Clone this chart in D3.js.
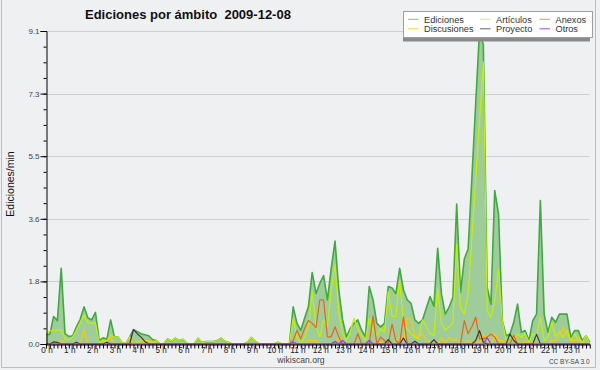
<!DOCTYPE html>
<html>
<head>
<meta charset="utf-8">
<script src="https://cdn.jsdelivr.net/npm/d3@7"></script>
<style>
  body { margin: 0; background: #eff0f2; }
  svg { display: block; font-family: "Liberation Sans", Arial, sans-serif; }
</style>
</head>
<body>
<div id="chart"></div>
<script>
// one value every 10 minutes, 0 h .. 23 h 50
var hourLabels = d3.range(24).map(function (h) { return h + " h"; });

var ediciones = [
  0.28, 0.28, 0.8, 0.68, 2.2, 0.3, 0.22, 0.24, 0.5, 0.72, 1.08, 0.76,
  0.7, 0.92, 0.1, 0.18, 0.14, 0.7, 0.2, 0.2, 0.04, 0, 0.2, 0.42,
  0.36, 0.3, 0.27, 0.24, 0.13, 0.1, 0, 0, 0.15, 0.08, 0.17, 0.1,
  0.14, 0.02, 0, 0, 0.17, 0.04, 0.07, 0.07, 0.07, 0.1, 0.17, 0.08,
  0.04, 0, 0, 0, 0, 0.05, 0.19, 0.08, 0, 0, 0, 0,
  0, 0.05, 0, 0, 0, 1.08, 0.6, 0.4, 0.75, 1.08, 2.08, 1.47,
  1.76, 1.99, 1.28, 2.2, 2.99, 1.57, 0.7, 0.21, 0.45, 0.6, 0.7, 0.4,
  0.21, 1.67, 1.28, 0.6, 0.5, 0.6, 1.67, 1.63, 1.47, 2.2, 1.57, 1.28,
  1.18, 0.7, 0.6, 0.7, 1.04, 1.38, 1.1, 2.78, 1.45, 0.87, 1.07, 1.36,
  4.07, 1.5, 2.47, 2.76, 4.84, 7.0, 9.1, 8.7, 1.65, 1.16, 4.46, 3.78,
  0.68, 0.24, 0.29, 0.63, 1.16, 0.34, 0.39, 0.1, 0.68, 0.87, 4.17, 0.87,
  0.34, 0.78, 0.63, 0.87, 0.87, 0.87, 0.19, 0.39, 0.39, 0.1, 0.24, 0.05
];

var articulos = [
  0.28, 0.39, 0.4, 0.4, 0.42, 0.15, 0.12, 0.2, 0.4, 0.62, 0.85, 0.62,
  0.6, 0.62, 0.05, 0.1, 0.1, 0.25, 0.2, 0.2, 0.04, 0, 0, 0,
  0.05, 0.1, 0.1, 0.1, 0.05, 0.1, 0, 0, 0.15, 0.08, 0.17, 0.1,
  0.14, 0.02, 0, 0, 0.17, 0.04, 0.07, 0.07, 0.07, 0.1, 0.17, 0.08,
  0.04, 0, 0, 0, 0, 0.05, 0.19, 0.08, 0, 0, 0, 0,
  0, 0.05, 0, 0, 0, 0.75, 0.2, 0, 0.2, 0.5, 1.52, 0.5,
  0.21, 0.7, 0.5, 1.57, 2.3, 0.9, 0.3, 0.1, 0.35, 0.75, 0.45, 0.25,
  0.1, 0.75, 0.4, 0.25, 0.45, 0.35, 1.52, 0.8, 0.8, 1.86, 0.6, 0.45,
  0.3, 0.2, 0.15, 0.7, 0.5, 0.3, 0.25, 1.6, 0.6, 0.4, 0.5, 0.6,
  2.9, 1.07, 0.87, 1.45, 3.1, 4.8, 6.5, 8.2, 0.97, 0.78, 1.26, 2.18,
  0.68, 0.1, 0.2, 0.1, 0.3, 0.2, 0.3, 0.05, 0.3, 0.2, 0.78, 0.1,
  0.2, 0.63, 0.2, 0.35, 0.2, 0.4, 0.1, 0.3, 0.1, 0.05, 0.25, 0
];

var anexos = [
  0, 0, 0, 0, 0, 0, 0, 0, 0, 0, 0, 0,
  0, 0, 0, 0, 0, 0, 0, 0, 0, 0, 0, 0,
  0, 0, 0, 0, 0, 0, 0, 0, 0, 0, 0, 0,
  0, 0, 0, 0, 0, 0, 0, 0, 0, 0, 0, 0,
  0, 0, 0, 0, 0, 0, 0, 0, 0, 0, 0, 0,
  0, 0, 0, 0, 0, 0.1, 0.4, 0.15, 0.45, 0.68, 0.6, 0.48,
  1.28, 1.28, 0.21, 0.21, 0.5, 0.2, 0, 0, 0, 0, 0.3, 0,
  0, 0, 0.82, 0, 0.2, 0.1, 0, 0.58, 0.1, 0, 0.79, 0,
  0, 0, 0, 0, 0, 0, 0, 0, 0, 0, 0, 0,
  0, 0, 0.68, 0.3, 0.5, 0.78, 0.15, 0.15, 0.2, 0.29, 0.2, 0,
  0, 0, 0, 0.25, 0, 0, 0, 0, 0, 0, 0, 0,
  0, 0, 0, 0, 0, 0, 0, 0, 0, 0, 0, 0
];

var discusiones = [
  0, 0, 0, 0.06, 0.1, 0, 0, 0, 0, 0, 0.42, 0,
  0, 0, 0, 0, 0.1, 0.2, 0, 0, 0, 0, 0.2, 0,
  0, 0, 0.08, 0.1, 0.08, 0, 0, 0, 0, 0, 0, 0,
  0, 0, 0, 0, 0, 0, 0, 0, 0, 0, 0, 0,
  0, 0, 0, 0, 0, 0, 0, 0, 0, 0, 0, 0,
  0, 0, 0, 0, 0, 0, 0, 0, 0, 0.1, 0.1, 0.1,
  0, 0, 0, 0, 0, 0.2, 0.1, 0, 0, 0, 0, 0,
  0, 0, 0, 0, 0.05, 0, 0, 0, 0.1, 0.2, 0.1, 0.75,
  0.72, 0.25, 0.2, 0.3, 0.1, 0.05, 0, 0, 0.19, 0, 0.19, 0.1,
  0.15, 0, 0, 0.1, 0, 0.1, 0, 0.29, 0.1, 0, 0.3, 0.1,
  0.1, 0, 0, 0.24, 0.1, 0, 0.1, 0, 0.05, 0, 0, 0,
  0, 0.1, 0.1, 0.2, 0.48, 0.29, 0.1, 0.1, 0.2, 0.05, 0, 0
];

var proyecto = [
  0, 0, 0.06, 0.05, 0, 0, 0, 0, 0.05, 0, 0, 0,
  0, 0, 0, 0, 0.05, 0, 0, 0, 0, 0, 0, 0.42,
  0.3, 0.2, 0.07, 0, 0, 0, 0, 0, 0, 0, 0, 0,
  0, 0, 0, 0, 0, 0, 0, 0, 0, 0, 0, 0,
  0, 0, 0, 0, 0, 0, 0, 0, 0, 0, 0, 0,
  0, 0, 0, 0, 0, 0, 0, 0, 0, 0, 0, 0,
  0, 0, 0, 0, 0, 0, 0, 0, 0, 0, 0, 0,
  0, 0, 0, 0, 0, 0, 0.13, 0, 0, 0, 0.17, 0,
  0, 0.08, 0, 0, 0, 0, 0.13, 0, 0, 0, 0, 0,
  0, 0, 0, 0, 0, 0.1, 0.39, 0.05, 0, 0, 0, 0,
  0, 0, 0.29, 0.1, 0, 0, 0, 0, 0, 0.28, 0, 0,
  0, 0, 0, 0, 0, 0, 0, 0, 0, 0, 0, 0
];

var otros = [
  0, 0, 0, 0, 0, 0, 0, 0, 0, 0, 0, 0,
  0, 0, 0, 0, 0, 0, 0, 0, 0, 0, 0, 0,
  0, 0, 0, 0, 0, 0, 0, 0, 0, 0, 0, 0,
  0, 0, 0, 0, 0, 0, 0, 0, 0, 0, 0, 0,
  0, 0, 0, 0, 0, 0, 0, 0, 0, 0, 0, 0,
  0, 0, 0, 0, 0, 0.06, 0, 0, 0, 0, 0, 0,
  0, 0, 0, 0, 0.08, 0, 0.1, 0, 0, 0, 0, 0,
  0, 0.1, 0, 0, 0, 0, 0, 0, 0, 0, 0, 0,
  0, 0, 0, 0, 0, 0, 0, 0, 0, 0, 0, 0,
  0, 0, 0, 0, 0, 0, 0, 0, 0.18, 0, 0, 0,
  0, 0, 0, 0, 0, 0, 0, 0, 0, 0, 0, 0,
  0, 0, 0, 0, 0, 0, 0, 0, 0, 0, 0, 0
];

var yMax = 9.1;

// drawing order and colours
var series = [
  { name: "Ediciones",   values: ediciones,   color: "#40a940", key: "#6fcf6f" },
  { name: "Artículos",   values: articulos,   color: "#c4f000", key: "#ccff33" },
  { name: "Discusiones", values: discusiones, color: "#ffc800", key: "#ffd633" },
  { name: "Anexos",      values: anexos,      color: "#f2601a", key: "#ff8c55" },
  { name: "Proyecto",    values: proyecto,    color: "#3a3a3a", key: "#666666" },
  { name: "Otros",       values: otros,       color: "#9933ff", key: "#9955ff" }
];
// legend order, row by row
var legendOrder = ["Ediciones", "Artículos", "Anexos", "Discusiones", "Proyecto", "Otros"];

var W = 600, H = 370;
var margin = { top: 31, right: 10, bottom: 26, left: 46 };
var n = ediciones.length;

var svg = d3.select("#chart")
    .append("svg")
    .attr("width", W)
    .attr("height", H);

svg.append("rect").attr("width", W).attr("height", H).attr("fill", "#eff0f2");

// frame
svg.append("path")
    .attr("d", "M1.5,0V367.5H595.5V0")
    .attr("fill", "none")
    .attr("stroke", "#bdbdbd");

var xScale = d3.scaleLinear()
    .domain([0, n - 1])
    .range([margin.left, 589.8]);

var yScale = d3.scaleLinear()
    .domain([0, yMax])
    .range([344, margin.top]);

var majorTicks = d3.range(6).map(function (k) { return yMax * k / 5; });
var minorTicks = d3.range(21).map(function (k) { return yMax * k / 20; });

// grid
svg.append("g")
    .selectAll("line")
    .data(majorTicks.slice(1))
    .enter().append("line")
    .attr("x1", margin.left)
    .attr("x2", xScale(n - 1))
    .attr("y1", function (d) { return Math.round(yScale(d)) + 0.5; })
    .attr("y2", function (d) { return Math.round(yScale(d)) + 0.5; })
    .attr("stroke", "#cfcfd2")
    .attr("stroke-width", 1);

// area for the total
var area = d3.area()
    .x(function (d, i) { return xScale(i); })
    .y0(yScale(0))
    .y1(function (d) { return yScale(d); });

svg.append("path")
    .datum(ediciones)
    .attr("fill", "#9fcc9b")
    .attr("d", area);

var line = d3.line()
    .x(function (d, i) { return xScale(i); })
    .y(function (d) { return yScale(d); });

series.forEach(function (s, k) {
    svg.append("path")
        .datum(s.values)
        .attr("fill", "none")
        .attr("stroke", s.color)
        .attr("stroke-width", k === 0 ? 1.6 : 1.2)
        .attr("stroke-linejoin", "round")
        .attr("d", line);
});

// Y axis
var yAxis = svg.append("g")
    .attr("transform", "translate(" + (margin.left + 0.5) + ",0)")
    .call(d3.axisLeft(yScale).tickValues(majorTicks).tickFormat(d3.format(".1f")).tickSize(6).tickPadding(1));
svg.append("g")
    .attr("transform", "translate(" + (margin.left + 0.5) + ",0)")
    .call(d3.axisLeft(yScale).tickValues(minorTicks).tickFormat("").tickSize(3))
    .select(".domain").remove();
yAxis.selectAll("text")
    .attr("fill", "#444")
    .style("font-size", "8px")
    .style("font-family", "Liberation Sans, Arial, sans-serif");

// X axis: a tick every 10 minutes, a label every hour
var xAxis = svg.append("g")
    .attr("transform", "translate(0,344.5)")
    .call(d3.axisBottom(xScale).tickValues(d3.range(n)).tickFormat("").tickSize(4).tickSizeOuter(0));
xAxis.selectAll(".tick line").attr("stroke-width", 1);

svg.append("g")
    .selectAll("text")
    .data(hourLabels)
    .enter().append("text")
    .attr("x", function (d, h) { return xScale(h * 6) + 1; })
    .attr("y", 353)
    .attr("text-anchor", "middle")
    .attr("fill", "#222")
    .style("font-size", "8.2px")
    .text(function (d) { return d; });

// titles
svg.append("text")
    .attr("x", 85)
    .attr("y", 18.5)
    .style("font-size", "13px")
    .style("font-weight", "bold")
    .attr("fill", "#111")
    .attr("xml:space", "preserve")
    .text("Ediciones por ámbito  2009-12-08");

svg.append("text")
    .attr("transform", "translate(13.5,184) rotate(-90)")
    .attr("text-anchor", "middle")
    .style("font-size", "10.5px")
    .attr("fill", "#111")
    .text("Ediciones/min");

svg.append("text")
    .attr("x", 301)
    .attr("y", 363.2)
    .attr("text-anchor", "middle")
    .style("font-size", "8.6px")
    .attr("fill", "#444")
    .text("wikiscan.org");

svg.append("text")
    .attr("x", 589.5)
    .attr("y", 364)
    .attr("text-anchor", "end")
    .style("font-size", "6.5px")
    .attr("fill", "#444")
    .text("CC BY-SA 3.0");

// legend
var legend = svg.append("g");
legend.append("rect")
    .attr("x", 403).attr("y", 38)
    .attr("width", 187).attr("height", 3.5)
    .attr("fill", "#8a8a8a");
legend.append("rect")
    .attr("x", 403.5).attr("y", 11.5)
    .attr("width", 189).attr("height", 26)
    .attr("fill", "#ffffff")
    .attr("stroke", "#a0a0a0");

var colX = [408, 480, 539.5];
var rowY = [19.3, 28.8];
var byName = {};
series.forEach(function (s) { byName[s.name] = s; });

var items = legend.selectAll("g.item")
    .data(legendOrder)
    .enter().append("g")
    .attr("class", "item")
    .attr("transform", function (d, i) {
        return "translate(" + colX[i % 3] + "," + rowY[Math.floor(i / 3)] + ")";
    });
items.append("line")
    .attr("x1", 0).attr("x2", 10.5)
    .attr("y1", 0).attr("y2", 0)
    .attr("stroke", function (d) { return byName[d].key; })
    .attr("stroke-width", 1);
items.append("text")
    .attr("x", 16)
    .attr("y", 3.3)
    .style("font-size", "9.2px")
    .attr("fill", "#333")
    .text(function (d) { return d; });
</script>
</body>
</html>
